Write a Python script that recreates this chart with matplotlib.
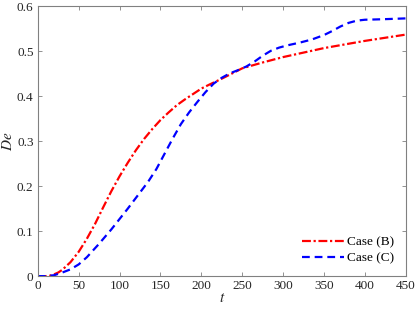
import matplotlib.pyplot as plt

# Case (B) values
t_b = [0, 5, 10, 15, 20, 25, 30, 40, 50, 60, 70, 80, 90, 100, 110, 120, 130,
       140, 150, 160, 170, 180, 190, 200, 210, 225, 250, 275, 300, 325, 350,
       375, 400, 425, 450]
de_b = [0.0, 0.0, 0.0, 0.001, 0.004, 0.008, 0.014, 0.031, 0.054, 0.083, 0.116,
        0.153, 0.189, 0.222, 0.252, 0.280, 0.305, 0.327, 0.347, 0.364, 0.380,
        0.393, 0.405, 0.417, 0.426, 0.439, 0.462, 0.475, 0.487, 0.497, 0.507,
        0.515, 0.523, 0.530, 0.537]

# Case (C) values
t_c = [0, 10, 20, 30, 40, 50, 60, 75, 90, 100, 110, 125, 135, 145, 155, 165,
       175, 185, 195, 205, 215, 225, 235, 245, 255, 265, 275, 285, 295, 305,
       320, 335, 350, 360, 370, 380, 390, 400, 420, 450]
de_c = [0.0, 0.0, 0.002, 0.008, 0.015, 0.026, 0.042, 0.072, 0.104, 0.127,
        0.150, 0.186, 0.210, 0.238, 0.272, 0.306, 0.338, 0.364, 0.387, 0.409,
        0.428, 0.441, 0.451, 0.458, 0.466, 0.477, 0.490, 0.501, 0.508, 0.513,
        0.519, 0.526, 0.536, 0.545, 0.555, 0.563, 0.568, 0.570, 0.571, 0.573]

x_ticks = [0, 50, 100, 150, 200, 250, 300, 350, 400, 450]
y_ticks = [0, 0.1, 0.2, 0.3, 0.4, 0.5, 0.6]
y_labels = ['0', '0.1', '0.2', '0.3', '0.4', '0.5', '0.6']

plt.rcParams['font.family'] = ['Liberation Serif', 'DejaVu Serif']
plt.rcParams['mathtext.fontset'] = 'stix'

fig = plt.figure(figsize=(4.15, 3.12), dpi=100)
ax = fig.add_axes([0.091, 0.115, 0.887, 0.865])

ax.plot(t_b, de_b, color='red', linewidth=1.6, linestyle=(0, (4, 1.2, 1, 1.2)),
        label='Case (B)')
ax.plot(t_c, de_c, color='blue', linewidth=1.6, linestyle=(0, (3.5, 2.2)),
        label='Case (C)')

ax.set_xlim(0, 450)
ax.set_ylim(0, 0.6)
ax.set_xticks(x_ticks)
ax.set_yticks(y_ticks)
ax.set_yticklabels(y_labels)
ax.tick_params(direction='in', length=3, width=0.6, colors='#808080',
               labelcolor='#262626', labelsize=9.5, top=True, right=True,
               pad=3)
for s in ax.spines.values():
    s.set_color('#808080')
    s.set_linewidth(0.8)

ax.set_xlabel('$t$', fontsize=11, labelpad=0, color='#262626')
ax.set_ylabel('$De$', fontsize=11, labelpad=1, color='#262626')

ax.legend(loc='lower right', frameon=False, fontsize=9.5, handlelength=3.2,
          handletextpad=0.2, labelspacing=0.25, borderaxespad=0.5)

plt.savefig('out.png', dpi=100)
